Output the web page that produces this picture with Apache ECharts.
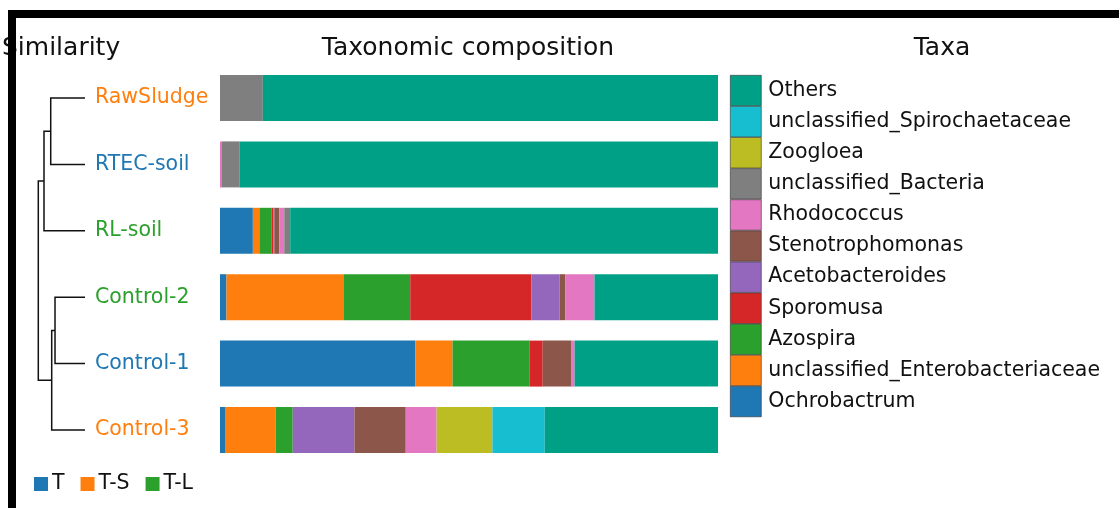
<!DOCTYPE html>
<html>
<head>
<meta charset="utf-8">
<script src="https://cdn.jsdelivr.net/npm/echarts@6/dist/echarts.min.js"></script>
<style>
  html, body { margin: 0; padding: 0; background: #fff; }
  #chart { width: 1119px; height: 508px; }
</style>
</head>
<body>
<div id="chart"></div>
<script>
// Samples, top to bottom
const samples = ['RawSludge', 'RTEC-soil', 'RL-soil', 'Control-2', 'Control-1', 'Control-3'];
const sampleGroups = ['T-S', 'T', 'T-L', 'T-L', 'T', 'T-S'];
const groups = ['T', 'T-S', 'T-L'];
const groupColors = { 'T': '#1f77b4', 'T-S': '#ff7f0e', 'T-L': '#2ca02c' };

// Relative abundance (%) per taxon, one value per sample
const Ochrobactrum               = [0,    0,    6.6, 1.3,  39.2, 1.0];
const unclassified_Enterobacteriaceae = [0, 0,  1.3, 23.6, 7.5,  10.2];
const Azospira                   = [0,    0,    2.5, 13.3, 15.5, 3.4];
const Sporomusa                  = [0,    0,    0.3, 24.3, 2.6,  0];
const Acetobacteroides           = [0,    0,    0.2, 5.7,  0,    12.4];
const Stenotrophomonas           = [0,    0,    1.0, 1.1,  5.8,  10.3];
const Rhodococcus                = [0,    0.4,  1.0, 5.9,  0.6,  6.2];
const unclassified_Bacteria      = [8.6,  3.5,  1.2, 0,    0,    0];
const Zoogloea                   = [0,    0,    0,   0,    0,    11.2];
const unclassified_Spirochaetaceae = [0,  0,    0,   0,    0,    10.5];
const Others                     = [91.4, 96.1, 85.9, 24.8, 28.8, 34.8];

// Taxa in stacking order (left to right)
const taxa = [
  ['Ochrobactrum', Ochrobactrum, '#1f77b4'],
  ['unclassified_Enterobacteriaceae', unclassified_Enterobacteriaceae, '#ff7f0e'],
  ['Azospira', Azospira, '#2ca02c'],
  ['Sporomusa', Sporomusa, '#d62728'],
  ['Acetobacteroides', Acetobacteroides, '#9467bd'],
  ['Stenotrophomonas', Stenotrophomonas, '#8c564b'],
  ['Rhodococcus', Rhodococcus, '#e377c2'],
  ['unclassified_Bacteria', unclassified_Bacteria, '#7f7f7f'],
  ['Zoogloea', Zoogloea, '#bcbd22'],
  ['unclassified_Spirochaetaceae', unclassified_Spirochaetaceae, '#17becf'],
  ['Others', Others, '#00a087']
];

// Hierarchical clustering merges: [childA, childB, distance]; new nodes get ids 6, 7, ...
const merges = [
  [0, 1, 0.734],
  [6, 2, 0.878],
  [3, 4, 0.642],
  [8, 5, 0.713],
  [7, 9, 1.0]
];

// Build dendrogram links (child positions from leaf order and merge distances)
const nodePos = samples.map((s, i) => ({ y: i, h: 0 }));
const links = merges.map(([a, b, h]) => {
  const A = nodePos[a], B = nodePos[b];
  nodePos.push({ y: (A.y + B.y) / 2, h: h });
  return [A.h, A.y, B.h, B.y, h];
});

const FONT = 'DejaVu Sans';
const gridTop = 64.8, gridHeight = 398.4;

const chart = echarts.init(document.getElementById('chart'), null, { renderer: 'canvas' });

const series = taxa.map(([name, values, color]) => ({
  name: name,
  type: 'bar',
  stack: 'tax',
  barWidth: 46,
  xAxisIndex: 0,
  yAxisIndex: 0,
  itemStyle: { color: color },
  emphasis: { disabled: true },
  data: values
}));

// Group key entries (empty, share the stack so bar layout is unchanged)
groups.forEach(g => series.push({
  name: g, type: 'bar', stack: 'tax', barWidth: 46,
  xAxisIndex: 0, yAxisIndex: 0,
  itemStyle: { color: groupColors[g] }, data: []
}));

series.push({
  type: 'custom',
  xAxisIndex: 1,
  yAxisIndex: 1,
  silent: true,
  encode: { x: [0, 2, 4], y: [1, 3] },
  data: links,
  renderItem: function (params, api) {
    const h1 = api.value(0), y1 = api.value(1), h2 = api.value(2), y2 = api.value(3), h = api.value(4);
    const p = [api.coord([h1, y1]), api.coord([h, y1]), api.coord([h, y2]), api.coord([h2, y2])];
    return {
      type: 'polyline',
      shape: { points: p },
      style: { stroke: '#111', lineWidth: 1.5, fill: null }
    };
  }
});

const LBL = 20.5;

const option = {
  backgroundColor: '#fff',
  animation: false,
  textStyle: { fontFamily: FONT },
  grid: [
    { left: 220, width: 498, top: gridTop, height: gridHeight },
    { left: 38.3, width: 46.7, top: gridTop, height: gridHeight }
  ],
  xAxis: [
    { type: 'value', gridIndex: 0, min: 0, max: 100, show: false },
    { type: 'value', gridIndex: 1, min: 0, max: 1, inverse: true, show: false }
  ],
  yAxis: [
    {
      type: 'category', gridIndex: 0, data: samples, inverse: true,
      axisLine: { show: false }, axisTick: { show: false },
      axisLabel: {
        margin: 125, align: 'left', fontSize: LBL, fontFamily: FONT,
        formatter: (v, i) => '{' + sampleGroups[i].replace('-', '') + '|' + v + '}',
        rich: {
          T: { color: groupColors['T'], fontSize: LBL, fontFamily: FONT },
          TS: { color: groupColors['T-S'], fontSize: LBL, fontFamily: FONT },
          TL: { color: groupColors['T-L'], fontSize: LBL, fontFamily: FONT }
        }
      }
    },
    { type: 'value', gridIndex: 1, min: -0.5, max: 5.5, inverse: true, show: false }
  ],
  legend: [
    {
      data: taxa.map(t => t[0]).reverse(),
      orient: 'vertical',
      left: 730, top: 75,
      padding: 0,
      itemWidth: 31, itemHeight: 30.5, itemGap: 0,
      icon: 'rect',
      selectedMode: false,
      itemStyle: { borderColor: '#333', borderWidth: 0.6 },
      textStyle: { fontSize: LBL, lineHeight: 22, fontFamily: FONT, color: '#111', padding: [6, 0, 0, 2] }
    },
    {
      data: groups,
      orient: 'horizontal',
      left: 34, top: 473,
      padding: 0,
      itemWidth: 14, itemHeight: 14, itemGap: 16,
      icon: 'rect',
      selectedMode: false,
      textStyle: { fontSize: LBL, lineHeight: 22, fontFamily: FONT, color: '#111', padding: [0, 0, 0, -1] }
    }
  ],
  graphic: [
    { type: 'text', x: 2, y: 48, style: { text: 'Similarity', fontSize: 25, fontFamily: FONT, fill: '#111', textVerticalAlign: 'middle' } },
    { type: 'text', x: 468, y: 48, style: { text: 'Taxonomic composition', fontSize: 25, fontFamily: FONT, fill: '#111', textAlign: 'center', textVerticalAlign: 'middle' } },
    { type: 'text', x: 942, y: 48, style: { text: 'Taxa', fontSize: 25, fontFamily: FONT, fill: '#111', textAlign: 'center', textVerticalAlign: 'middle' } },
    // frame edges
    { type: 'rect', z: 100, shape: { x: 8, y: 10, width: 1111, height: 8 }, style: { fill: '#000' } },
    { type: 'rect', z: 100, shape: { x: 8, y: 10, width: 8, height: 498 }, style: { fill: '#000' } }
  ],
  series: series
};

chart.setOption(option);
</script>
</body>
</html>
